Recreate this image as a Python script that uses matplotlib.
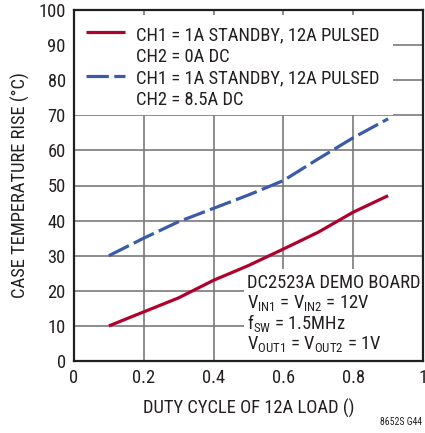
import matplotlib
matplotlib.use("Agg")
import matplotlib.pyplot as plt
from matplotlib.patches import Rectangle

# Duty cycle of the 12A load and measured case temperature rise
duty = [0.1, 0.2, 0.3, 0.4, 0.5, 0.6, 0.7, 0.8, 0.9]
rise_ch2_0a = [10, 14, 18, 23, 27.2, 31.9, 36.7, 42.4, 47.1]
rise_ch2_8p5a = [30, 35, 39.7, 43.5, 47.3, 51.4, 57.6, 63.6, 69.0]

x_ticks = [0, 0.2, 0.4, 0.6, 0.8, 1]
x_tick_labels = ["0", "0.2", "0.4", "0.6", "0.8", "1"]
y_ticks = [0, 10, 20, 30, 40, 50, 60, 70, 80, 90, 100]

legend_entries = [
    (["CH1 = 1A STANDBY, 12A PULSED", "CH2 = 0A DC"], "#B0002C", "-"),
    (["CH1 = 1A STANDBY, 12A PULSED", "CH2 = 8.5A DC"], "#3B5BAA", "--"),
]

FONT = ["Roboto Condensed", "DejaVu Sans"]
plt.rcParams["font.family"] = FONT
plt.rcParams["mathtext.fontset"] = "custom"
plt.rcParams["mathtext.rm"] = "Roboto Condensed"

TXT = "#231F20"
FS = 13.3
LW = 2.3
DASH = (7, 1.7)

fig = plt.figure(figsize=(4.25, 4.33), dpi=100)
ax = fig.add_axes([74 / 425, 72 / 433, 349 / 425, 351 / 433])

ax.set_xlim(0, 1)
ax.set_ylim(0, 100)
ax.set_xticks(x_ticks)
ax.set_xticklabels(x_tick_labels)
ax.set_yticks(y_ticks)
ax.tick_params(length=0, labelsize=FS, pad=6, colors=TXT)
ax.grid(True, color="#7a7a7a", linewidth=1.2, zorder=0)
ax.set_axisbelow(True)
for s in ax.spines.values():
    s.set_linewidth(1.6)
    s.set_color(TXT)

# White panels behind the legend and the board notes
ax.add_patch(Rectangle((0, 70), 0.913, 28.6, facecolor="white", edgecolor="none", zorder=1))
ax.add_patch(Rectangle((0.488, 0), 0.52, 26.3, facecolor="white", edgecolor="none", zorder=1))

ax.plot(duty, rise_ch2_0a, color=legend_entries[0][1], linewidth=LW, zorder=3,
        solid_capstyle="butt")
ax.plot(duty, rise_ch2_8p5a, color=legend_entries[1][1], linewidth=LW, zorder=3,
        dashes=DASH)

# Legend
handle_y = [93.6, 81.2]
text_baselines = [[91.4, 85.2], [79.2, 72.9]]
for (lines, color, style), hy, bases in zip(legend_entries, handle_y, text_baselines):
    kw = dict(dashes=DASH) if style == "--" else dict(solid_capstyle="butt")
    ax.plot([0.034, 0.147], [hy, hy], color=color, linewidth=LW, zorder=4, **kw)
    for line, b in zip(lines, bases):
        ax.text(0.177, b, line, fontsize=FS, va="baseline", ha="left",
                color=TXT, zorder=4)

# Board notes
notes = [
    "DC2523A DEMO BOARD",
    r"V$_{\mathregular{IN1}}$ = V$_{\mathregular{IN2}}$ = 12V",
    r"f$_{\mathregular{SW}}$ = 1.5MHz",
    r"V$_{\mathregular{OUT1}}$ = V$_{\mathregular{OUT2}}$ = 1V",
]
note_baselines = [20.9, 15.1, 9.0, 3.3]
for line, b in zip(notes, note_baselines):
    ax.text(0.496, b, line, fontsize=FS, va="baseline", ha="left",
            color=TXT, zorder=4)

ax.set_xlabel("DUTY CYCLE OF 12A LOAD ()", fontsize=FS, color=TXT, labelpad=8)
ax.set_ylabel("CASE TEMPERATURE RISE (°C)", fontsize=FS, color=TXT, labelpad=6)

fig.text(422 / 425, 1 - 422 / 433, "8652S G44", fontsize=7, ha="right", va="center",
         color=TXT)

fig.savefig("out.png", dpi=100)
